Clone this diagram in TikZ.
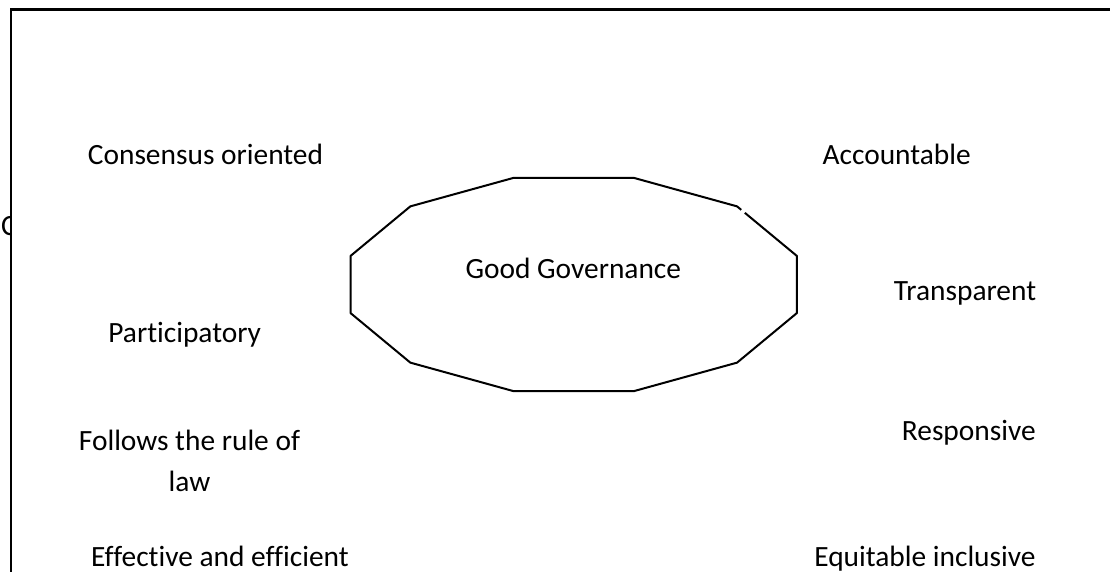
\documentclass[tikz,border=0pt]{standalone}
\usepackage{fontspec}
\setmainfont{Carlito}[Ligatures=NoCommon]
\usetikzlibrary{calc}
\begin{document}
\begin{tikzpicture}[x=1pt,y=1pt,
  lbl/.style={inner sep=0pt,anchor=base,font=\fontsize{29.4}{41.7}\selectfont},
  frame/.style={line width=2.6pt,black},
  dodec/.style={line width=2pt,black,line join=round}]
\useasboundingbox (0,0) rectangle (1110,-571);
% partially hidden letter at the left edge
\begin{scope}
  \clip (0,0) rectangle (10.5,-571);
  \node[lbl,anchor=base west] (cpart) at (1,-235) {C};
\end{scope}
% frame (top and left sides)
\coordinate (ftr) at (1112,-9.5);
\coordinate (ftl) at (11,-9.5);
\coordinate (fbl) at (11,-573);
\draw[frame] (ftr) -- (ftl) -- (fbl);
% dodecagon
\foreach \a [count=\i] in {15,45,...,345}
  \coordinate (v\i) at ({573.7+231*cos(\a)},{-284.5+110.5*sin(\a)});
\draw[dodec] ($(v2)!0.13!(v1)$) -- (v1) -- (v12) -- (v11) -- (v10) -- (v9) -- (v8)
  -- (v7) -- (v6) -- (v5) -- (v4) -- (v3) -- (v2) -- ($(v2)!0.07!(v1)$);
\node[lbl] (gg) at (573.3,-278.3) {Good Governance};
% labels
\node[lbl] (cons) at (205.5,-164) {Consensus oriented};
\node[lbl] (acc) at (896.7,-164) {Accountable};
\node[lbl] (part) at (184.7,-342.7) {Participatory};
\node[lbl] (trans) at (965,-300) {Transparent};
\node[lbl,align=center] (law) at (189.5,-491.7) {Follows the rule of\\law};
\node[lbl] (resp) at (968.8,-440) {Responsive};
\node[lbl] (eff) at (220,-566) {Effective and efficient};
\node[lbl] (equ) at (925,-566) {Equitable inclusive};
\end{tikzpicture}
\end{document}
